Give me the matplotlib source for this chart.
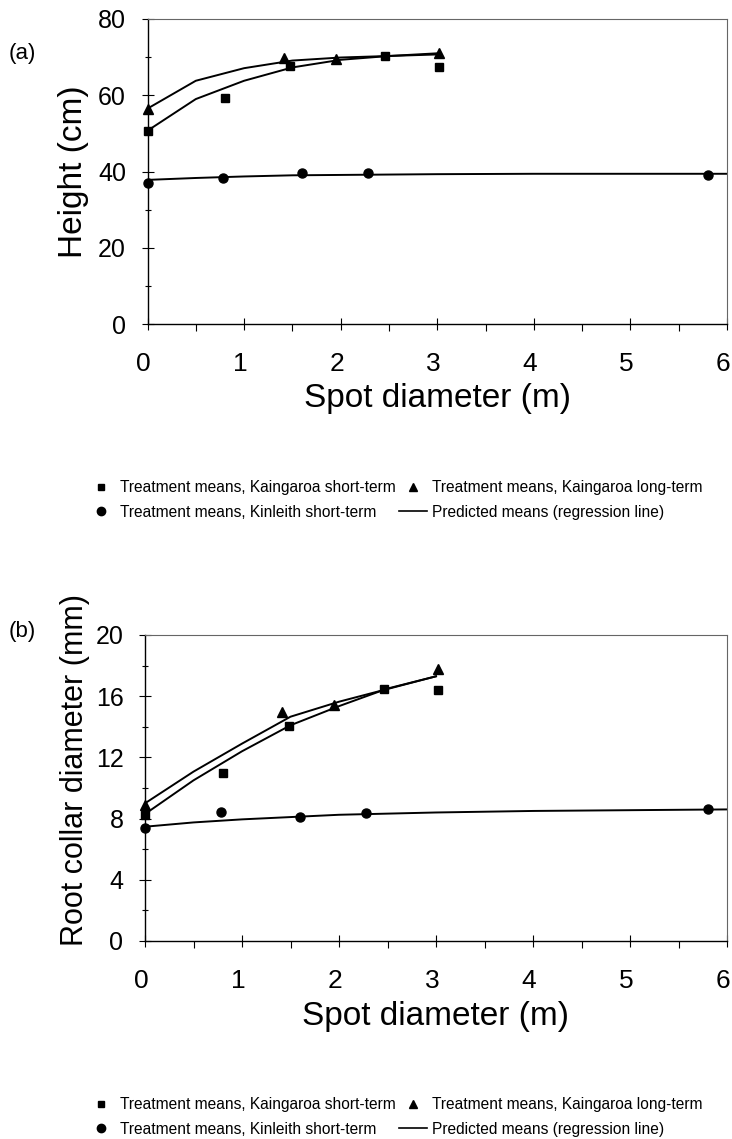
import matplotlib
matplotlib.use("Agg")
from matplotlib import pyplot as plt
from matplotlib.lines import Line2D
from matplotlib.ticker import MultipleLocator
from matplotlib.transforms import ScaledTranslation

plt.rcParams['font.family'] = ['Liberation Sans', 'DejaVu Sans']

# spot diameters (m) of the treatments
spot_ks = [0.0, 0.80, 1.48, 2.46, 3.02]      # Kaingaroa short-term
spot_kl = [0.0, 1.41, 1.95, 3.02]            # Kaingaroa long-term
spot_kin = [0.0, 0.78, 1.60, 2.28, 5.80]     # Kinleith short-term

# (a) height (cm)
height_ks = [50.7, 59.4, 67.6, 70.4, 67.3]
height_kl = [56.3, 69.9, 69.6, 71.2]
height_kin = [36.9, 38.4, 39.6, 39.7, 39.1]

# (b) root collar diameter (mm)
rcd_ks = [8.24, 10.96, 14.07, 16.47, 16.40]
rcd_kl = [8.87, 14.95, 15.42, 17.78]
rcd_kin = [7.36, 8.45, 8.10, 8.39, 8.60]

# regression lines (predicted means)
pred_x_kaing = [0.0, 0.5, 1.0, 1.5, 2.0, 2.5, 3.0]
pred_x_kin = [0.0, 0.5, 1.0, 1.5, 2.0, 3.0, 4.0, 5.0, 6.0]
height_pred_ks = [50.7, 59.0, 63.8, 67.3, 69.3, 70.3, 71.0]
height_pred_kl = [56.5, 63.8, 67.1, 69.1, 69.9, 70.3, 70.7]
height_pred_kin = [37.8, 38.3, 38.7, 39.0, 39.1, 39.3, 39.4, 39.4, 39.4]
rcd_pred_ks = [8.3, 10.5, 12.4, 14.1, 15.35, 16.5, 17.3]
rcd_pred_kl = [9.0, 11.07, 12.9, 14.66, 15.64, 16.47, 17.3]
rcd_pred_kin = [7.47, 7.75, 7.95, 8.1, 8.25, 8.4, 8.5, 8.55, 8.6]

legend_labels = ["Treatment means, Kaingaroa short-term",
                 "Treatment means, Kinleith short-term",
                 "Treatment means, Kaingaroa long-term",
                 "Predicted means (regression line)"]

W, H = 732, 1139


def draw_panel(ax, ks, kl, kin, pred_ks, pred_kl, pred_kin, ymax, ystep,
               ylabel, ylab_size):
    ax.plot(pred_x_kaing, pred_ks, color='black', lw=1.4)
    ax.plot(pred_x_kaing, pred_kl, color='black', lw=1.4)
    ax.plot(pred_x_kin, pred_kin, color='black', lw=1.4)
    ax.plot(spot_ks, ks, 's', color='black', ms=5.5, clip_on=False)
    ax.plot(spot_kl, kl, '^', color='black', ms=6.5, clip_on=False)
    ax.plot(spot_kin, kin, 'o', color='black', ms=6.5, clip_on=False)

    ax.set_xlim(0, 6)
    ax.set_ylim(0, ymax)
    ax.xaxis.set_major_locator(MultipleLocator(1))
    ax.xaxis.set_minor_locator(MultipleLocator(0.5))
    ax.yaxis.set_major_locator(MultipleLocator(ystep))
    ax.yaxis.set_minor_locator(MultipleLocator(ystep / 2))
    ax.tick_params(axis='x', which='major', direction='inout', length=9,
                   width=0.8, labelsize=19, pad=16)
    ax.tick_params(axis='x', which='minor', direction='out', length=5, width=0.8)
    ax.tick_params(axis='y', which='major', direction='inout', length=9,
                   width=0.8, labelsize=18, pad=11)
    ax.tick_params(axis='y', which='minor', direction='inout', length=5, width=0.8)

    # the x tick labels sit a little left of their ticks in the original
    shift = ScaledTranslation(-4 / 100, 0, fig.dpi_scale_trans)
    for tick in ax.xaxis.get_major_ticks():
        tick.label1.set_transform(tick.label1.get_transform() + shift)

    for side in ['left', 'bottom']:
        ax.spines[side].set_linewidth(1.0)
    for side in ['top', 'right']:
        ax.spines[side].set_linewidth(0.8)
        ax.spines[side].set_color('#666666')

    ax.set_xlabel("Spot diameter (m)", fontsize=24, va='top')
    ax.xaxis.set_label_coords(0.5, -0.195)
    ax.set_ylabel(ylabel, fontsize=ylab_size, va='center')


def add_legend(fig, top_px):
    handles = [
        Line2D([], [], marker='s', ls='none', color='black', ms=5),
        Line2D([], [], marker='o', ls='none', color='black', ms=6),
        Line2D([], [], marker='^', ls='none', color='black', ms=6),
        Line2D([], [], color='black', lw=1.2),
    ]
    fig.legend(handles, legend_labels, loc='upper left', ncol=2,
               bbox_to_anchor=(87 / W, 1 - top_px / H), frameon=False,
               fontsize=11.2, borderpad=0, borderaxespad=0,
               handlelength=1.8, handletextpad=0.35, columnspacing=0.15,
               labelspacing=0.62)


fig = plt.figure(figsize=(W / 100, H / 100), dpi=100)

ax_a = fig.add_axes([147.5 / W, 1 - 324 / H, 579.5 / W, 305 / H])
draw_panel(ax_a, height_ks, height_kl, height_kin,
           height_pred_ks, height_pred_kl, height_pred_kin,
           80, 20, "Height (cm)", 24)
ax_a.yaxis.set_label_coords(-0.127, 0.5)

ax_b = fig.add_axes([145 / W, 1 - 941 / H, 582 / W, 306 / H])
draw_panel(ax_b, rcd_ks, rcd_kl, rcd_kin,
           rcd_pred_ks, rcd_pred_kl, rcd_pred_kin,
           20, 4, "Root collar diameter (mm)", 22)
ax_b.yaxis.set_label_coords(-0.12, 0.56)

fig.text(22 / W, 1 - 53 / H, "(a)", fontsize=16, ha='center', va='center')
fig.text(22 / W, 1 - 632 / H, "(b)", fontsize=16, ha='center', va='center')

add_legend(fig, 480)
add_legend(fig, 1097)

fig.savefig("out.png", dpi=100)
